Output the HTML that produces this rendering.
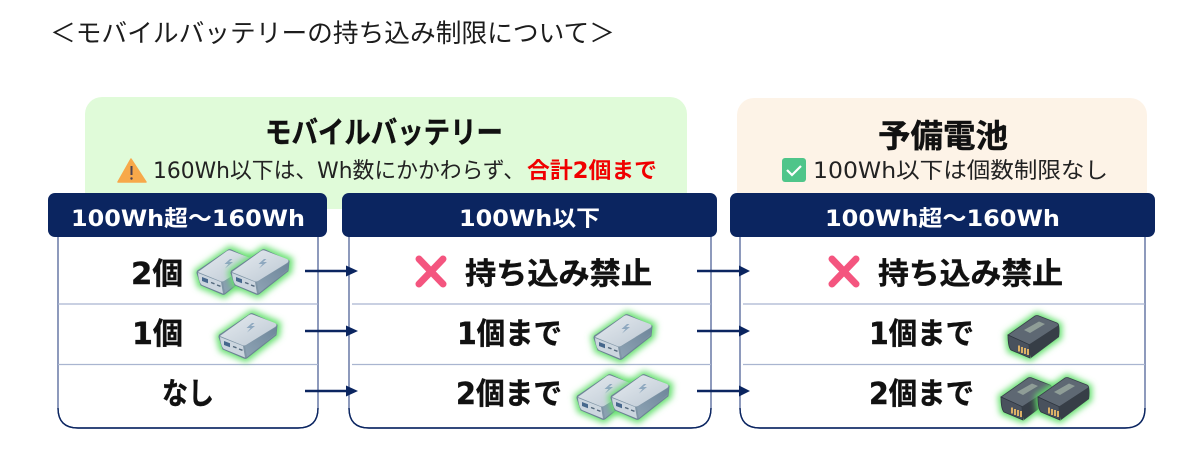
<!DOCTYPE html>
<html lang="ja"><head><meta charset="utf-8">
<style>
html,body{margin:0;padding:0;background:#fff;width:1200px;height:465px;overflow:hidden}
svg{display:block}
text{font-family:"DejaVu Sans","Noto Sans CJK JP",sans-serif}
.b{font-weight:700;fill:#111;stroke:#111;stroke-width:.4}
.w{font-weight:700;fill:#fff;font-size:22px}
.r{fill:#222;font-size:22px}
</style></head><body>
<svg width="1200" height="465" viewBox="0 0 1200 465" xmlns="http://www.w3.org/2000/svg">
<defs>
<filter id="gl" x="-40%" y="-40%" width="180%" height="180%"><feGaussianBlur stdDeviation="3.200"/></filter>
<linearGradient id="top" x1="0" y1="0" x2="1" y2="1"><stop offset="0" stop-color="#e6ebf0"/><stop offset="1" stop-color="#bcc8d3"/></linearGradient>
<linearGradient id="right" x1="0" y1="1" x2="1" y2="0"><stop offset="0" stop-color="#8ea3b4"/><stop offset="1" stop-color="#6f879b"/></linearGradient>
<symbol id="bank" overflow="visible">
<path d="M0 24 L33 1 L59 12 L58 23 L27 47 L3 37Z" fill="#66e070" stroke="#66e070" stroke-width="6" filter="url(#gl)"/>
<path d="M0 25 L4 37 L25 46 Q27 47 29 45 L57 23 L58 13 L34 2 Q32 1 30 3 L2 22 Q0 23 0 25Z" fill="#7f95a6" stroke="#6b8194" stroke-width="1"/>
<path d="M1 24 L30 3 Q32 1.500 35 3 L56 11 Q59 13 56 15 L27 33 Q25 34 23 33 Z" fill="url(#top)"/>
<path d="M1 25 L24 34 L26 45.500 L5 37 Q2 35 1 25Z" fill="#ccd6df"/>
<path d="M26 34 L57 15 Q58 18 56 22 L28 45 Q27 40 26 34Z" fill="url(#right)"/>
<path d="M5 29 l6 2.300 v4 l-6 -2.300z" fill="#46678c"/>
<path d="M14 34.500 l3.500 1.300 M20 37 l3.500 1.300" stroke="#52687c" stroke-width="1.400"/>
<path d="M33 11 l-5.500 5 h4 l-3.500 4.500 l8 -6.500 h-4 l3.500 -3z" fill="#8ea8bf"/>
</symbol>
<symbol id="bat" overflow="visible">
<path d="M0 20 L29 0 L51 10 L51 22 L22 43 L2 35Z" fill="#62e06c" stroke="#62e06c" stroke-width="6" filter="url(#gl)"/>
<path d="M0 20 L27 1 Q29 0 31 1 L49 8 Q52 10 49 12 L23 29 Q21 30 19 29Z" fill="#5e6873" stroke="#3a424c" stroke-width=".8"/>
<path d="M0 20 L21 29.500 L22 43 L3 35 Q0 32 0 20Z" fill="#49515d" stroke="#2f3640" stroke-width=".8"/>
<path d="M21 29.500 L51 10 Q52 16 51 22 L23 43 Q21 38 21 29.500Z" fill="#373e47"/>
<path d="M16 15 L31 6.500 L37 9 L22 18Z" fill="#8f9d97"/>
<path d="M11 30.500 v6 M14 32 v6 M17 33 v6 M20 34 v6" stroke="#dbb066" stroke-width="2"/>
</symbol>
</defs>

<text x="50" y="42" font-size="25.500" fill="#1c1c1c" textLength="565" lengthAdjust="spacingAndGlyphs">＜モバイルバッテリーの持ち込み制限について＞</text>

<rect x="85" y="97" width="602" height="112" rx="17" fill="#e0fbd9"/>
<rect x="737" y="98" width="410" height="110" rx="17" fill="#fdf3e7"/>

<text class="b" x="265" y="143" font-size="30" textLength="238" lengthAdjust="spacingAndGlyphs">モバイルバッテリー</text>
<path d="M131 159 L146 182 H118Z" fill="#f7a84a" stroke="#f7a84a" stroke-width="1.500" stroke-linejoin="round"/>
<path d="M131.500 166 V175" stroke="#4a4050" stroke-width="2"/><circle cx="131.500" cy="178.500" r="1.200" fill="#4a4050"/>
<text class="r" x="153" y="178" textLength="372" lengthAdjust="spacingAndGlyphs">160Wh以下は、Wh数にかかわらず、</text>
<text x="527" y="178" font-size="22" font-weight="700" fill="#f00000" textLength="130" lengthAdjust="spacingAndGlyphs">合計2個まで</text>

<text class="b" x="878" y="147" font-size="32" textLength="130" lengthAdjust="spacingAndGlyphs">予備電池</text>
<rect x="782" y="158" width="24" height="24" rx="3" fill="#4fc58a"/>
<path d="M787 170 l5 5 l9 -9" fill="none" stroke="#fff" stroke-width="2.200"/>
<text class="r" x="813" y="178" textLength="295" lengthAdjust="spacingAndGlyphs">100Wh以下は個数制限なし</text>

<g fill="#fff" stroke="#5d6f9f" stroke-width="1.400">
<path d="M58 230 V408 Q58 428 78 428 H298 Q318 428 318 408 V230"/>
<path d="M349 230 V408 Q349 428 369 428 H691 Q711 428 711 408 V230"/>
<path d="M740 230 V408 Q740 428 760 428 H1125 Q1145 428 1145 408 V230"/>
</g>
<g fill="none" stroke="#0b2560" stroke-width="1.400">
<path d="M58 408 Q58 428 78 428 H298 Q318 428 318 408"/>
<path d="M349 408 Q349 428 369 428 H691 Q711 428 711 408"/>
<path d="M740 408 Q740 428 760 428 H1125 Q1145 428 1145 408"/>
</g>
<g stroke="#a9b5d0" stroke-width="1.300">
<path d="M58 304 H318 M58 364.500 H318 M352 304 H711 M352 364.500 H711 M743 304 H1145 M743 364.500 H1145"/>
</g>

<g fill="#0b2560">
<rect x="48" y="193" width="279" height="44" rx="7"/>
<rect x="342" y="193" width="375" height="44" rx="7"/>
<rect x="730" y="193" width="425" height="44" rx="7"/>
</g>
<text class="w" x="71" y="226" textLength="234" lengthAdjust="spacingAndGlyphs">100Wh超～160Wh</text>
<text class="w" x="459" y="226" textLength="141" lengthAdjust="spacingAndGlyphs">100Wh以下</text>
<text class="w" x="825" y="226" textLength="235" lengthAdjust="spacingAndGlyphs">100Wh超～160Wh</text>

<g font-size="30">
<text class="b" x="131" y="284" textLength="52" lengthAdjust="spacingAndGlyphs">2個</text>
<text class="b" x="132" y="344" textLength="51" lengthAdjust="spacingAndGlyphs">1個</text>
<text class="b" x="162" y="404" textLength="52" lengthAdjust="spacingAndGlyphs">なし</text>
<text class="b" x="465" y="284" textLength="187" lengthAdjust="spacingAndGlyphs">持ち込み禁止</text>
<text class="b" x="457" y="344" textLength="105" lengthAdjust="spacingAndGlyphs">1個まで</text>
<text class="b" x="456" y="404" textLength="106" lengthAdjust="spacingAndGlyphs">2個まで</text>
<text class="b" x="878" y="284" textLength="185" lengthAdjust="spacingAndGlyphs">持ち込み禁止</text>
<text class="b" x="869" y="344" textLength="105" lengthAdjust="spacingAndGlyphs">1個まで</text>
<text class="b" x="869" y="404" textLength="105" lengthAdjust="spacingAndGlyphs">2個まで</text>
</g>

<path d="M419 259 L443 284 M443 259 L419 284" stroke="#f4557f" stroke-width="7" stroke-linecap="round"/>
<path d="M832 259 L856 284 M856 259 L832 284" stroke="#f4557f" stroke-width="7" stroke-linecap="round"/>

<g fill="#0b2560" stroke="#0b2560">
<path d="M305 271 H350 M305 331 H350 M305 391 H350 M697 271 H742 M697 331 H742 M697 391 H742" stroke-width="2.400"/>
<g stroke="none">
<path d="M346 265.500 L358 271 L346 276.500Z M346 325.500 L358 331 L346 336.500Z M346 385.500 L358 391 L346 396.500Z"/>
<path d="M739 265.500 L750 271 L739 276.500Z M739 325.500 L750 331 L739 336.500Z M739 385.500 L750 391 L739 396.500Z"/>
</g>
</g>

<use href="#bank" x="197" y="248"/>
<use href="#bank" x="231" y="248"/>
<use href="#bank" x="219" y="312"/>
<use href="#bank" x="594" y="313"/>
<use href="#bank" x="577" y="373"/>
<use href="#bank" x="611" y="373"/>
<use href="#bat" x="1008" y="315"/>
<use href="#bat" x="1001" y="377"/>
<use href="#bat" x="1038" y="377"/>
</svg>
</body></html>
